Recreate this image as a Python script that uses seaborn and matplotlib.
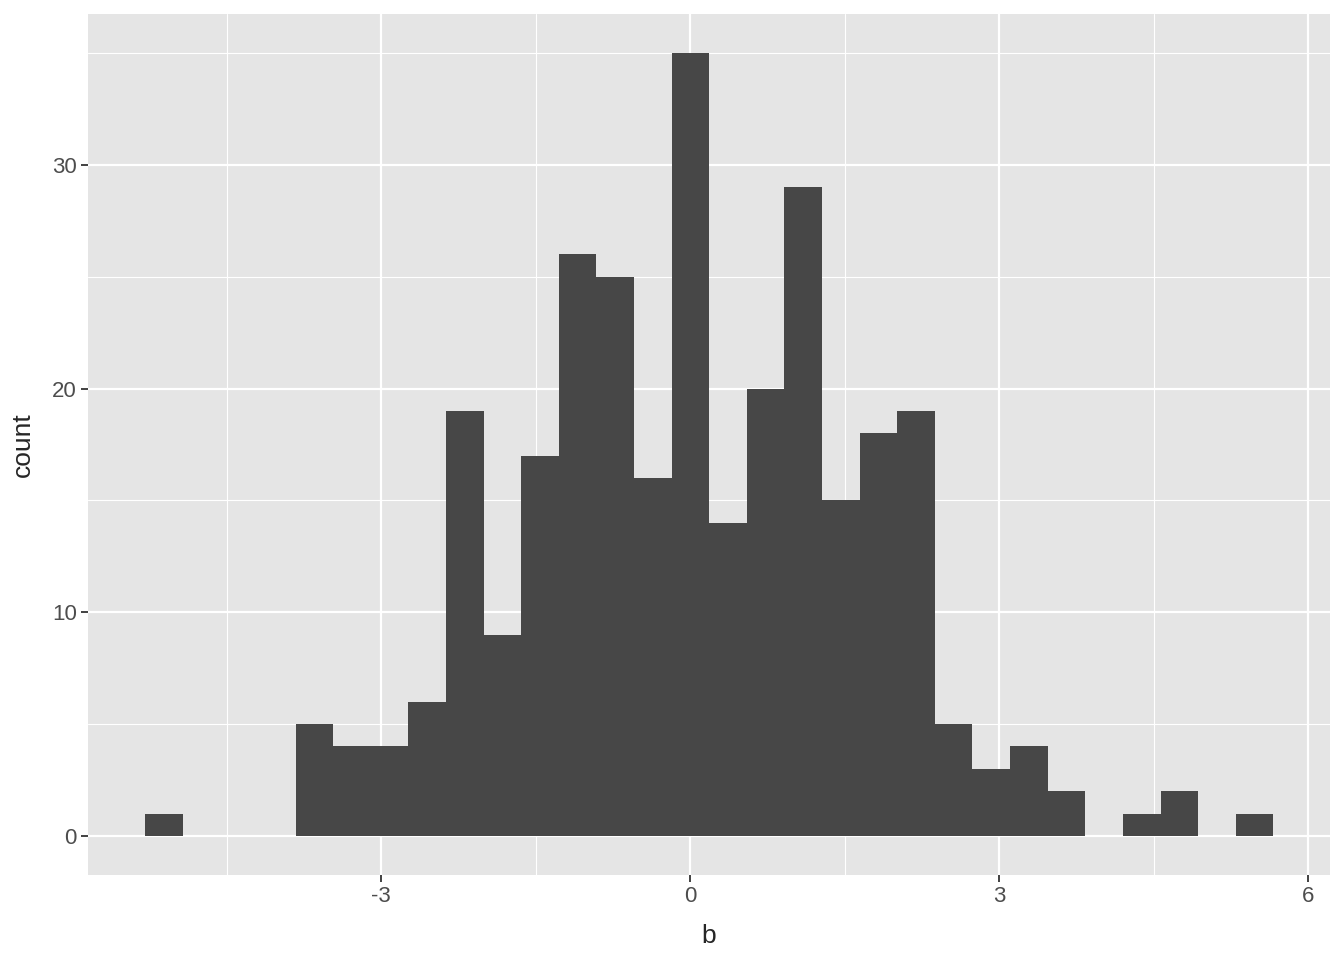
import numpy as np
import pandas as pd
import seaborn as sns
import matplotlib.pyplot as plt

# histogram of b: 30 bins, counts
bin_lo = -5.29
bin_hi = 5.66
counts = [1, 0, 0, 0, 5, 4, 4, 6, 19, 9, 17, 26, 25, 16, 35,
          14, 20, 29, 15, 18, 19, 5, 3, 4, 2, 0, 1, 2, 0, 1]
x_ticks = [-3, 0, 3, 6]
y_ticks = [0, 10, 20, 30]

edges = np.linspace(bin_lo, bin_hi, len(counts) + 1)
df = pd.DataFrame({"b": (edges[:-1] + edges[1:]) / 2, "n": counts})

sns.set_style("darkgrid", {"axes.facecolor": "#E5E5E5", "grid.color": "white"})
plt.rcParams['font.family'] = ['Liberation Sans', 'DejaVu Sans']

fig = plt.figure(figsize=(13.44, 9.6), dpi=100)
ax = fig.add_axes([88 / 1344, 85 / 960, (1330 - 88) / 1344, (876 - 15) / 960])

sns.histplot(data=df, x="b", weights="n", bins=list(edges), color="#474747",
             alpha=1, edgecolor="none", linewidth=0, ax=ax)

ax.set_xlim(-5.845, 6.21)
ax.set_ylim(-1.75, 36.75)
ax.set_xticks(x_ticks)
ax.set_xticklabels(["-3", "0", "3", "6"])
ax.set_yticks(y_ticks)
ax.set_xticks([-4.5, -1.5, 1.5, 4.5], minor=True)
ax.set_yticks([5, 15, 25, 35], minor=True)
ax.grid(which="major", color="white", linewidth=1.6)
ax.grid(which="minor", color="white", linewidth=0.8)
ax.set_axisbelow(True)
for s in ax.spines.values():
    s.set_visible(False)
ax.tick_params(which="major", length=5, width=1.3, color="#333333",
               labelsize=16, labelcolor="#4D4D4D", pad=3, bottom=True, left=True)
ax.tick_params(which="minor", length=0)
ax.set_xlabel("b", fontsize=19, labelpad=12)
ax.set_ylabel("count", fontsize=19, labelpad=12)

fig.savefig("out.png", dpi=100, facecolor="white")
